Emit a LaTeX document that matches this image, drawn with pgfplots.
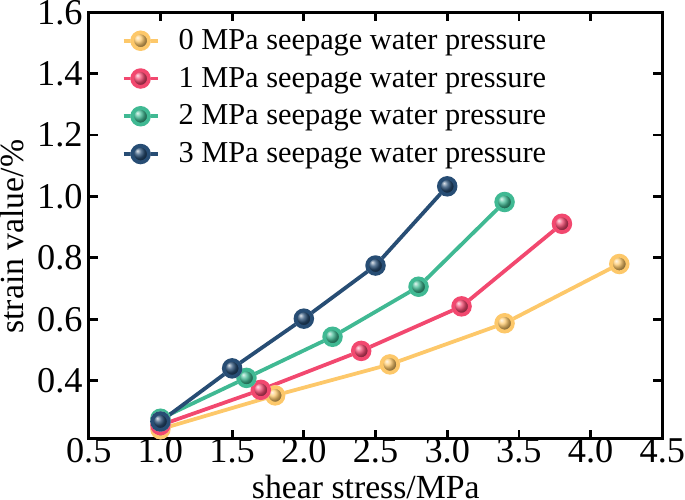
\documentclass[border=0pt]{standalone}
\usepackage{fontspec}
\setmainfont{Liberation Serif}
\usepackage{pgfplots}
\pgfplotsset{compat=1.18}
\definecolor{cy}{HTML}{FDC86A}
\definecolor{cr}{HTML}{F2486F}
\definecolor{cg}{HTML}{40B993}
\definecolor{cb}{HTML}{274D74}
\newdimen\wballr
\pgfdeclareplotmark{wball}{%
  \pgfmathsetlength\wballr{\pgfplotmarksize+0.9pt}%
  \pgfscope
  \pgfpathcircle{\pgfpointorigin}{\wballr}%
  \pgfsetfillcolor{white}%
  \pgfusepath{fill}%
  \endpgfscope
  \pgfuseplotmark{ball}%
}
\begin{document}
\begin{tikzpicture}
\begin{axis}[
  scale only axis, width=289pt, height=215pt,
  xmin=0.5, xmax=4.5, ymin=0.21, ymax=1.6,
  xtick={0.5,1.0,1.5,2.0,2.5,3.0,3.5,4.0,4.5},
  ytick={0.4,0.6,0.8,1.0,1.2,1.4,1.6},
  /pgf/number format/assume math mode=true,
  ticklabel style={font=\fontsize{18.3}{18.3}\selectfont, inner sep=0pt},
  xticklabel style={yshift=0.5pt, /pgf/number format/.cd,fixed,fixed zerofill,precision=1},
  yticklabel style={xshift=-2.9pt, /pgf/number format/.cd,fixed,fixed zerofill,precision=1},
  tick align=inside, major tick length=4.5pt,
  axis line style={line width=1.5pt},
  every tick/.style={black, line width=1.4pt},
  xlabel={shear stress/MPa}, ylabel={strain value/\%},
  label style={font=\fontsize{17}{17}\selectfont, inner sep=0pt},
  xlabel style={at={([yshift=-18.2pt]axis description cs:0.483,0)}, anchor=north},
  ylabel style={at={([xshift=-32.5pt]axis description cs:0,0.474)}, anchor=south},
  legend style={at={(0.0465,0.98)}, anchor=north west, draw=none, fill=none,
    font=\fontsize{15.3}{18}\selectfont, row sep=3.4pt},
  legend cell align=left,
  every axis plot/.append style={line width=1.9pt, mark=wball, mark size=4.2pt},
]
\addplot[color=cy, mark options={ball color=cy}] coordinates {(1.0,0.242) (1.8,0.352) (2.6,0.453) (3.4,0.587) (4.2,0.780)};
\addlegendentry{\ \ 0 MPa seepage water pressure}
\addplot[color=cr, mark options={ball color=cr}] coordinates {(1.0,0.255) (1.7,0.370) (2.4,0.497) (3.1,0.642) (3.8,0.911)};
\addlegendentry{\ \ 1 MPa seepage water pressure}
\addplot[color=cg, mark options={ball color=cg}] coordinates {(1.0,0.276) (1.6,0.409) (2.2,0.543) (2.8,0.706) (3.4,0.982)};
\addlegendentry{\ \ 2 MPa seepage water pressure}
\addplot[color=cb, mark options={ball color=cb}] coordinates {(1.0,0.267) (1.5,0.440) (2.0,0.602) (2.5,0.775) (3.0,1.033)};
\addlegendentry{\ \ 3 MPa seepage water pressure}
\end{axis}
\end{tikzpicture}
\end{document}
